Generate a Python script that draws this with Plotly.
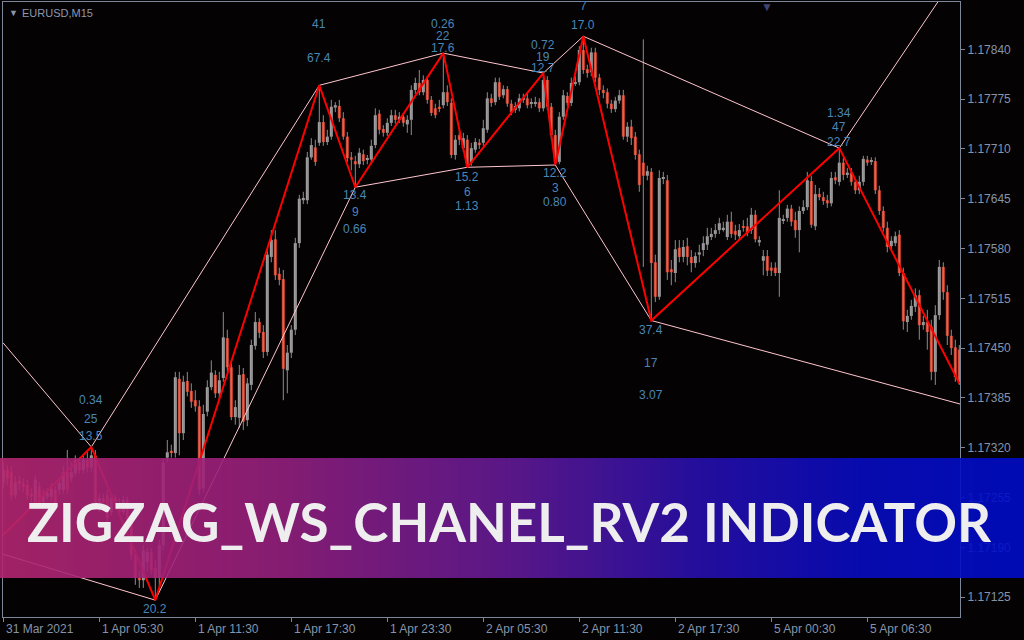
import numpy as np
import plotly.graph_objects as go

# ---------------- data ----------------
time_tick_labels = ["31 Mar 2021", "1 Apr 05:30", "1 Apr 11:30", "1 Apr 17:30", "1 Apr 23:30",
                    "2 Apr 05:30", "2 Apr 11:30", "2 Apr 17:30", "5 Apr 00:30", "5 Apr 06:30"]
time_tick_bars = [0, 24, 48, 72, 96, 120, 144, 168, 192, 216]

price_ticks = [1.17125, 1.17190, 1.17255, 1.17320, 1.17385, 1.17450, 1.17515,
               1.17580, 1.17645, 1.17710, 1.17775, 1.17840]

open_ = [1.17274,1.17291,1.17288,1.17258,1.17277,1.17273,1.17271,1.17260,1.17248,1.17269,
 1.17249,1.17256,1.17256,1.17265,1.17265,1.17265,1.17288,1.17280,1.17287,1.17301,
 1.17291,1.17304,1.17294,1.17310,1.17243,1.17254,1.17258,1.17236,1.17254,1.17248,
 1.17236,1.17252,1.17226,1.17180,1.17150,1.17147,1.17171,1.17183,1.17163,1.17150,
 1.17193,1.17307,1.17316,1.17313,1.17410,1.17339,1.17407,1.17394,1.17382,1.17374,
 1.17267,1.17367,1.17399,1.17415,1.17391,1.17411,1.17463,1.17425,1.17360,1.17359,
 1.17416,1.17356,1.17402,1.17453,1.17484,1.17471,1.17445,1.17569,1.17592,1.17547,
 1.17540,1.17421,1.17444,1.17474,1.17587,1.17643,1.17643,1.17699,1.17712,1.17718,
 1.17745,1.17719,1.17726,1.17764,1.17766,1.17750,1.17726,1.17699,1.17694,1.17690,
 1.17703,1.17696,1.17696,1.17715,1.17756,1.17736,1.17731,1.17744,1.17754,1.17748,
 1.17752,1.17742,1.17748,1.17787,1.17796,1.17784,1.17800,1.17774,1.17763,1.17765,
 1.17767,1.17784,1.17770,1.17702,1.17728,1.17711,1.17722,1.17692,1.17709,1.17718,
 1.17718,1.17735,1.17776,1.17771,1.17797,1.17780,1.17788,1.17769,1.17761,1.17763,
 1.17774,1.17776,1.17769,1.17769,1.17771,1.17763,1.17800,1.17765,1.17728,1.17693,
 1.17752,1.17779,1.17770,1.17796,1.17797,1.17839,1.17814,1.17810,1.17836,1.17803,
 1.17787,1.17784,1.17769,1.17762,1.17773,1.17780,1.17726,1.17739,1.17726,1.17703,
 1.17692,1.17675,1.17680,1.17562,1.17517,1.17671,1.17669,1.17553,1.17548,1.17581,
 1.17569,1.17583,1.17569,1.17561,1.17572,1.17578,1.17585,1.17595,1.17599,1.17604,
 1.17605,1.17595,1.17615,1.17603,1.17596,1.17609,1.17609,1.17604,1.17624,1.17588,
 1.17564,1.17570,1.17555,1.17555,1.17548,1.17617,1.17620,1.17632,1.17617,1.17604,
 1.17629,1.17634,1.17668,1.17609,1.17651,1.17647,1.17643,1.17639,1.17673,1.17667,
 1.17692,1.17676,1.17679,1.17667,1.17656,1.17667,1.17696,1.17694,1.17694,1.17656,
 1.17629,1.17607,1.17583,1.17587,1.17598,1.17548,1.17484,1.17492,1.17504,1.17519,
 1.17480,1.17484,1.17478,1.17419,1.17493,1.17556,1.17523,1.17466,1.17451,1.17448]

close_ = [1.17291,1.17280,1.17258,1.17275,1.17273,1.17269,1.17258,1.17256,1.17278,1.17248,
 1.17256,1.17261,1.17267,1.17245,1.17274,1.17288,1.17265,1.17288,1.17304,1.17291,
 1.17304,1.17294,1.17310,1.17243,1.17254,1.17248,1.17228,1.17254,1.17248,1.17236,
 1.17252,1.17226,1.17180,1.17150,1.17147,1.17186,1.17184,1.17160,1.17150,1.17193,
 1.17300,1.17314,1.17313,1.17412,1.17339,1.17406,1.17393,1.17380,1.17374,1.17265,
 1.17364,1.17399,1.17418,1.17391,1.17408,1.17464,1.17425,1.17360,1.17373,1.17415,
 1.17354,1.17404,1.17454,1.17484,1.17470,1.17445,1.17572,1.17591,1.17545,1.17539,
 1.17423,1.17444,1.17474,1.17587,1.17645,1.17646,1.17699,1.17715,1.17693,1.17745,
 1.17719,1.17726,1.17765,1.17767,1.17750,1.17726,1.17698,1.17696,1.17690,1.17705,
 1.17694,1.17696,1.17714,1.17754,1.17735,1.17731,1.17744,1.17754,1.17748,1.17752,
 1.17744,1.17748,1.17787,1.17796,1.17784,1.17800,1.17774,1.17757,1.17754,1.17763,
 1.17784,1.17771,1.17702,1.17722,1.17722,1.17724,1.17688,1.17711,1.17719,1.17715,
 1.17737,1.17776,1.17770,1.17797,1.17778,1.17788,1.17769,1.17758,1.17766,1.17776,
 1.17776,1.17767,1.17770,1.17771,1.17763,1.17800,1.17765,1.17728,1.17692,1.17752,
 1.17780,1.17770,1.17796,1.17797,1.17839,1.17813,1.17809,1.17836,1.17803,1.17787,
 1.17783,1.17769,1.17762,1.17773,1.17780,1.17726,1.17739,1.17724,1.17702,1.17663,
 1.17675,1.17681,1.17561,1.17517,1.17672,1.17671,1.17549,1.17549,1.17579,1.17569,
 1.17582,1.17569,1.17561,1.17570,1.17575,1.17587,1.17596,1.17599,1.17604,1.17613,
 1.17607,1.17615,1.17599,1.17598,1.17604,1.17608,1.17600,1.17624,1.17592,1.17591,
 1.17570,1.17551,1.17551,1.17548,1.17620,1.17617,1.17632,1.17615,1.17604,1.17629,
 1.17634,1.17669,1.17611,1.17651,1.17647,1.17642,1.17639,1.17672,1.17669,1.17692,
 1.17676,1.17679,1.17667,1.17656,1.17667,1.17697,1.17692,1.17694,1.17656,1.17629,
 1.17607,1.17582,1.17590,1.17596,1.17548,1.17485,1.17492,1.17505,1.17519,1.17480,
 1.17484,1.17471,1.17419,1.17493,1.17556,1.17523,1.17466,1.17450,1.17412,1.17404]

high_ = [1.17301,1.17297,1.17296,1.17283,1.17283,1.17280,1.17278,1.17267,1.17284,1.17275,
 1.17265,1.17267,1.17274,1.17270,1.17280,1.17296,1.17317,1.17301,1.17310,1.17307,
 1.17310,1.17314,1.17321,1.17317,1.17260,1.17260,1.17265,1.17260,1.17258,1.17254,
 1.17257,1.17256,1.17232,1.17186,1.17160,1.17193,1.17189,1.17189,1.17173,1.17200,
 1.17305,1.17330,1.17324,1.17419,1.17419,1.17414,1.17419,1.17404,1.17395,1.17382,
 1.17376,1.17408,1.17434,1.17421,1.17419,1.17497,1.17474,1.17434,1.17382,1.17428,
 1.17424,1.17411,1.17461,1.17497,1.17489,1.17480,1.17578,1.17604,1.17604,1.17555,
 1.17552,1.17454,1.17480,1.17594,1.17650,1.17654,1.17706,1.17724,1.17722,1.17793,
 1.17754,1.17735,1.17774,1.17771,1.17774,1.17758,1.17732,1.17706,1.17701,1.17711,
 1.17709,1.17702,1.17722,1.17763,1.17761,1.17741,1.17750,1.17761,1.17761,1.17758,
 1.17757,1.17754,1.17793,1.17803,1.17813,1.17806,1.17805,1.17779,1.17769,1.17774,
 1.17835,1.17793,1.17776,1.17728,1.17735,1.17731,1.17728,1.17718,1.17724,1.17723,
 1.17748,1.17784,1.17782,1.17803,1.17803,1.17793,1.17792,1.17774,1.17771,1.17782,
 1.17782,1.17782,1.17776,1.17778,1.17776,1.17809,1.17805,1.17770,1.17735,1.17758,
 1.17787,1.17784,1.17803,1.17805,1.17844,1.17857,1.17820,1.17842,1.17842,1.17808,
 1.17793,1.17789,1.17774,1.17778,1.17787,1.17787,1.17745,1.17748,1.17732,1.17709,
 1.17853,1.17688,1.17685,1.17572,1.17682,1.17680,1.17676,1.17565,1.17591,1.17591,
 1.17591,1.17594,1.17578,1.17575,1.17585,1.17596,1.17607,1.17607,1.17612,1.17620,
 1.17615,1.17624,1.17628,1.17611,1.17612,1.17617,1.17620,1.17633,1.17630,1.17596,
 1.17578,1.17578,1.17562,1.17562,1.17656,1.17624,1.17637,1.17637,1.17628,1.17635,
 1.17643,1.17680,1.17675,1.17663,1.17659,1.17654,1.17650,1.17680,1.17680,1.17711,
 1.17698,1.17685,1.17685,1.17672,1.17675,1.17701,1.17701,1.17699,1.17699,1.17662,
 1.17635,1.17615,1.17596,1.17602,1.17604,1.17555,1.17500,1.17513,1.17528,1.17526,
 1.17492,1.17500,1.17487,1.17506,1.17565,1.17562,1.17532,1.17474,1.17461,1.17454]

low_ = [1.17267,1.17271,1.17252,1.17254,1.17265,1.17262,1.17252,1.17248,1.17241,1.17243,
 1.17244,1.17252,1.17250,1.17240,1.17258,1.17260,1.17260,1.17275,1.17283,1.17286,
 1.17286,1.17288,1.17288,1.17239,1.17236,1.17241,1.17223,1.17231,1.17239,1.17231,
 1.17232,1.17219,1.17173,1.17141,1.17137,1.17137,1.17158,1.17154,1.17121,1.17134,
 1.17186,1.17301,1.17307,1.17307,1.17310,1.17330,1.17387,1.17372,1.17367,1.17258,
 1.17262,1.17361,1.17395,1.17385,1.17382,1.17406,1.17419,1.17356,1.17350,1.17346,
 1.17343,1.17348,1.17395,1.17448,1.17463,1.17437,1.17440,1.17562,1.17539,1.17532,
 1.17382,1.17391,1.17437,1.17467,1.17581,1.17638,1.17638,1.17696,1.17688,1.17714,
 1.17714,1.17715,1.17722,1.17758,1.17745,1.17722,1.17693,1.17682,1.17660,1.17685,
 1.17689,1.17690,1.17690,1.17711,1.17729,1.17726,1.17727,1.17740,1.17743,1.17744,
 1.17739,1.17731,1.17728,1.17782,1.17780,1.17780,1.17769,1.17753,1.17750,1.17758,
 1.17763,1.17766,1.17698,1.17696,1.17715,1.17706,1.17686,1.17688,1.17705,1.17710,
 1.17714,1.17731,1.17765,1.17767,1.17774,1.17776,1.17765,1.17754,1.17757,1.17759,
 1.17770,1.17763,1.17763,1.17765,1.17758,1.17759,1.17761,1.17722,1.17689,1.17690,
 1.17748,1.17766,1.17766,1.17792,1.17793,1.17808,1.17803,1.17805,1.17797,1.17780,
 1.17776,1.17763,1.17757,1.17758,1.17769,1.17722,1.17719,1.17715,1.17696,1.17654,
 1.17556,1.17669,1.17487,1.17510,1.17513,1.17664,1.17539,1.17532,1.17536,1.17562,
 1.17562,1.17558,1.17549,1.17555,1.17562,1.17570,1.17578,1.17591,1.17594,1.17599,
 1.17602,1.17591,1.17594,1.17591,1.17591,1.17602,1.17596,1.17599,1.17588,1.17583,
 1.17545,1.17544,1.17544,1.17544,1.17517,1.17612,1.17615,1.17609,1.17594,1.17575,
 1.17625,1.17630,1.17607,1.17604,1.17643,1.17637,1.17633,1.17635,1.17664,1.17662,
 1.17669,1.17672,1.17662,1.17651,1.17651,1.17662,1.17688,1.17689,1.17651,1.17624,
 1.17602,1.17575,1.17578,1.17583,1.17544,1.17474,1.17471,1.17487,1.17497,1.17461,
 1.17474,1.17448,1.17408,1.17402,1.17487,1.17513,1.17454,1.17441,1.17406,1.17402]

# ZigZag turning points (bar index, price)
zz_bars = [-0.8, 22, 38, 79, 88, 110, 116, 135, 138, 145, 162, 209, 239]
zz_price = [1.17202, 1.17321, 1.17121, 1.17793, 1.17660, 1.17835, 1.17686,
            1.17809, 1.17689, 1.17857, 1.17486, 1.17711, 1.17404]

# Channel segments (bar index / price at both ends)
chan_bar0 = [-0.08, -0.08, 22, 38, 79, 88, 110, 116, 135, 138, 145, 162, 209]
chan_p0 = [1.17457, 1.17181, 1.17321, 1.17121, 1.17793, 1.17660, 1.17835,
           1.17686, 1.17809, 1.17689, 1.17857, 1.17486, 1.17711]
chan_bar1 = [22, 38, 79, 88, 110, 116, 135, 138, 145, 162, 209, 239.2, 235.6]
chan_p1 = [1.17321, 1.17121, 1.17793, 1.17660, 1.17835, 1.17686, 1.17809,
           1.17689, 1.17857, 1.17486, 1.17711, 1.17377, 1.17917]

# Labels printed at ZigZag points 1..11 (nearest first)
zz_labels = [["13.5", "25", "0.34"], ["20.2"], ["67.4", "41"], ["13.4", "9", "0.66"],
             ["17.6", "22", "0.26"], ["15.2", "6", "1.13"], ["12.7", "19", "0.72"],
             ["12.2", "3", "0.80"], ["17.0", "7"], ["37.4", "17", "3.07"],
             ["22.7", "47", "1.34"]]

# ---------------- styles ----------------
BG = "#050203"
FRAME = "#7d879a"
AXC = "#8494aa"
BULL = "#a3a3a3"
BEAR = "#e0442f"
WICK = "#8e8e8e"
CHAN = "#ffc6cf"
ZZ = "#ff0000"
LBL = "#4a86b6"
label_shift = [[11, 28, 47], [-9], [27, 61], [-8, -25, -42], [5, 17, 29],
               [-10, -25, -39], [5, 16, 28], [-8, -23, -37], [11, 30],
               [-9, -42, -74], [6, 21, 35]]

W, H = 1024, 640
X0, X1 = 3, 960          # plot frame in pixels
Y0, Y1 = 2, 617

fig = go.Figure()

n = len(open_)
idx = list(range(n))

# wicks
wx, wy = [], []
for i in idx:
    wx += [i, i, None]
    wy += [low_[i], high_[i], None]
fig.add_trace(go.Scatter(x=wx, y=wy, mode="lines", line=dict(color=WICK, width=1),
                         hoverinfo="skip", showlegend=False))

# bodies
base = [min(o, c) for o, c in zip(open_, close_)]
hgt = [max(abs(c - o), 0.000012) for o, c in zip(open_, close_)]
cols = [BULL if c >= o else BEAR for o, c in zip(open_, close_)]
fig.add_trace(go.Bar(x=idx, y=hgt, base=base, width=0.75,
                     marker=dict(color=cols, line=dict(width=0)),
                     hoverinfo="skip", showlegend=False))

# channel lines
cx, cy = [], []
for a, pa, b, pb in zip(chan_bar0, chan_p0, chan_bar1, chan_p1):
    cx += [a, b, None]
    cy += [pa, pb, None]
fig.add_trace(go.Scatter(x=cx, y=cy, mode="lines", line=dict(color=CHAN, width=1),
                         hoverinfo="skip", showlegend=False))

# zigzag
fig.add_trace(go.Scatter(x=zz_bars, y=zz_price, mode="lines", line=dict(color=ZZ, width=2),
                         hoverinfo="skip", showlegend=False))

# banner gradient (overlay subplot)
grad = np.linspace(0, 1, 300)
fig.add_trace(go.Heatmap(z=[grad, grad], x=grad, y=[0, 1], xaxis="x2", yaxis="y2",
                         colorscale=[[0, "rgb(178,38,112)"], [0.25, "rgb(152,32,124)"],
                                     [0.5, "rgb(98,26,150)"], [0.68, "rgb(40,16,172)"],
                                     [0.84, "rgb(8,12,192)"], [1, "rgb(0,12,200)"]],
                         showscale=False, opacity=0.9, zsmooth="best", hoverinfo="skip"))

ann = []
# pivot labels
for k, (labs, shifts) in enumerate(zip(zz_labels, label_shift)):
    bx, py = zz_bars[k + 1], zz_price[k + 1]
    for t, s in zip(labs, shifts):
        ann.append(dict(x=bx, y=py, xref="x", yref="y", text=t, showarrow=False,
                        yshift=s, xanchor="center", yanchor="middle",
                        font=dict(family="Liberation Sans", size=12, color=LBL)))
# time labels
for b, t in zip(time_tick_bars, time_tick_labels):
    ann.append(dict(x=b, y=(H - 629) / H, xref="x", yref="paper", text=t, showarrow=False,
                    xanchor="left", yanchor="middle", xshift=1,
                    font=dict(family="Liberation Sans", size=12, color=AXC)))
# header
ann.append(dict(x=7 / W, y=(H - 13) / H, xref="paper", yref="paper", text="▼", showarrow=False,
                xanchor="left", yanchor="middle", font=dict(size=9, color="#8a96aa")))
ann.append(dict(x=20 / W, y=(H - 13) / H, xref="paper", yref="paper", text="EURUSD,M15",
                showarrow=False, xanchor="left", yanchor="middle",
                font=dict(family="Liberation Sans", size=11, color="#8d99ae")))
ann.append(dict(x=767 / W, y=(H - 7) / H, xref="paper", yref="paper", text="▼", showarrow=False,
                xanchor="center", yanchor="middle", font=dict(size=12, color="#3c4470")))
# banner title
ann.append(dict(x=509 / W, y=(H - 521) / H, xref="paper", yref="paper",
                text="ZIGZAG_WS_CHANEL_RV2 INDICATOR", showarrow=False,
                xanchor="center", yanchor="middle",
                font=dict(family="Lato", size=53, color="#eeeeee", weight=700)))

fig.update_layout(
    width=W, height=H, margin=dict(l=0, r=0, t=0, b=0, pad=0),
    paper_bgcolor=BG, plot_bgcolor="rgba(0,0,0,0)", showlegend=False,
    font=dict(family="Liberation Sans", size=12, color=AXC),
    barmode="overlay",
    xaxis=dict(domain=[X0 / W, X1 / W], range=[-0.075, 239.175], showgrid=False, zeroline=False,
               showline=True, linecolor=FRAME, linewidth=1, mirror=True,
               tickmode="array", tickvals=time_tick_bars, ticks="outside", ticklen=4,
               tickcolor=FRAME, showticklabels=False, automargin=False, fixedrange=True),
    yaxis=dict(domain=[1 - Y1 / H, 1 - Y0 / H], range=[1.1709903, 1.1790174], side="right",
               showgrid=False, zeroline=False, showline=True, linecolor=FRAME, linewidth=1,
               mirror=True, tickmode="array", tickvals=price_ticks,
               ticktext=[f"{v:.5f}" for v in price_ticks], ticks="outside", ticklen=4,
               tickcolor=FRAME, tickfont=dict(family="Liberation Sans", size=12, color=AXC),
               automargin=False, fixedrange=True),
    xaxis2=dict(domain=[0, 1], range=[0, 1], visible=False, anchor="y2"),
    yaxis2=dict(domain=[62 / H, 182 / H], range=[0, 1], visible=False, anchor="x2"),
    annotations=ann,
)

fig.write_html("out.html", config={"displayModeBar": False},
               post_script="document.body.style.margin='0';document.body.style.overflow='hidden';"
                           "document.body.style.background='" + BG + "';")
